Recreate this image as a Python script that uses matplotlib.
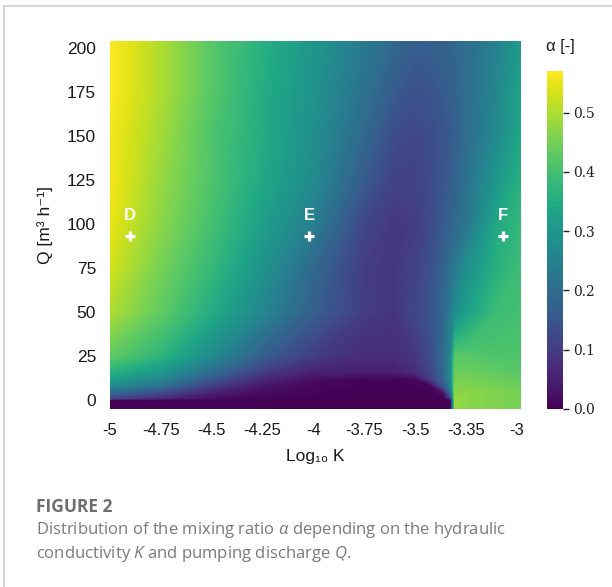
import numpy as np
import matplotlib
matplotlib.use("Agg")
import matplotlib.pyplot as plt
from matplotlib.lines import Line2D
from matplotlib.cm import ScalarMappable
from matplotlib.colors import Normalize

# grid: columns = log10 K, rows = Q [m3/h]
log_k = [-5.0, -4.75, -4.5, -4.25, -4.0, -3.75, -3.6, -3.5, -3.42, -3.36,
         -3.325, -3.305, -3.25, -3.1, -2.98]
q = [-5, 0, 1, 4, 8, 12, 16, 25, 50, 75, 100, 125, 150, 175, 205]

# mixing ratio alpha, one row per q value (bottom to top)
alpha = [
    [0, 0, 0, 0, 0, 0, 0, 0, 0, 0, 0, .48, .47, .46, .45],
    [0, 0, 0, 0, 0, 0, 0, 0, 0, 0, 0, .48, .47, .46, .45],
    [.12, .06, .02, .005, 0, 0, 0, 0, 0, 0, .10, .48, .47, .46, .45],
    [.18, .12, .05, .015, .005, 0, 0, 0, 0, .02, .20, .47, .47, .46, .45],
    [.27, .21, .10, .03, .01, .003, .003, .003, .01, .15, .25, .46, .46, .45, .44],
    [.32, .26, .15, .065, .02, .005, .005, .01, .10, .18, .27, .45, .45, .44, .43],
    [.36, .30, .20, .10, .05, .05, .05, .07, .12, .19, .27, .44, .44, .43, .42],
    [.43, .37, .27, .17, .10, .07, .07, .09, .13, .20, .26, .42, .42, .41, .41],
    [.50, .43, .35, .26, .17, .10, .09, .12, .15, .19, .24, .27, .32, .39, .40],
    [.53, .45, .38, .29, .19, .10, .09, .11, .14, .18, .21, .23, .28, .36, .39],
    [.55, .47, .40, .32, .24, .12, .09, .10, .13, .16, .18, .19, .22, .34, .38],
    [.56, .48, .41, .34, .27, .16, .11, .11, .13, .15, .17, .18, .21, .30, .36],
    [.56, .49, .41, .35, .28, .19, .13, .12, .13, .15, .16, .17, .20, .27, .34],
    [.57, .50, .42, .35, .29, .21, .16, .14, .15, .16, .17, .18, .20, .26, .33],
    [.57, .50, .42, .36, .30, .23, .19, .17, .17, .18, .18, .19, .20, .25, .31],
]

x_ticks = [-5, -4.75, -4.5, -4.25, -4, -3.75, -3.5, -3.25, -3]
x_tick_labels = ["-5", "-4.75", "-4.5", "-4.25", "-4", "-3.75", "-3.5", "-3.35", "-3"]
y_ticks = [0, 25, 50, 75, 100, 125, 150, 175, 200]

point_names = ["D", "E", "F"]
point_k = [-4.9, -4.02, -3.07]
point_q = [93, 93, 93]

vmax = 0.57
sans = ["Liberation Sans", "DejaVu Sans"]

plt.rcParams["mathtext.fontset"] = "custom"
plt.rcParams["mathtext.rm"] = "Open Sans"
plt.rcParams["mathtext.it"] = "Open Sans:italic"

fig = plt.figure(figsize=(6.12, 5.87), dpi=100)
ax = fig.add_axes([110 / 612, 178 / 587, 411 / 612, 368 / 587])

levels = np.linspace(0, vmax, 120)
ax.contourf(log_k, q, np.array(alpha), levels=levels, cmap="viridis",
            vmin=0, vmax=vmax, extend="both")

ax.set_xlim(-5.0, -2.98)
ax.set_ylim(-5.1, 204)
for s in ax.spines.values():
    s.set_visible(False)

ax.set_xticks(x_ticks)
ax.set_xticklabels(x_tick_labels, family=sans, fontsize=12)
ax.set_yticks(y_ticks)
ax.set_yticklabels([str(v) for v in y_ticks], family=sans, fontsize=12.5)
ax.tick_params(length=0, pad=10, colors="#1a1a1a")

ax.set_xlabel("Log₁₀ K", family=sans, fontsize=12.5, labelpad=8, color="#1a1a1a")
ax.set_ylabel("Q [m³ h⁻¹]", family=sans, fontsize=12.5, labelpad=10, color="#1a1a1a")

# marked points
ax.plot(point_k, point_q, "+", color="white", ms=7, mew=2.3)
for name, k, qq in zip(point_names, point_k, point_q):
    ax.text(k, qq + 12, name, color="white", fontweight="bold", family=sans,
            fontsize=12, ha="center", va="center")

# colorbar
cax = fig.add_axes([547 / 612, 178 / 587, 16 / 612, 338 / 587])
sm = ScalarMappable(norm=Normalize(0, vmax), cmap="viridis")
cb = fig.colorbar(sm, cax=cax)
cb.outline.set_visible(False)
cb.set_ticks([0.0, 0.1, 0.2, 0.3, 0.4, 0.5])
cb.ax.tick_params(length=4, width=1, labelsize=10, colors="#222222")
for t in cb.ax.get_yticklabels():
    t.set_family("DejaVu Serif")
fig.text(560 / 612, 1 - 47 / 587, "α [-]", ha="center", va="center",
         family=sans, fontsize=12, color="#1a1a1a")

# caption
fig.text(36 / 612, 1 - 507 / 587, "FIGURE 2", ha="left", va="center",
         family="Open Sans", fontweight="bold", fontsize=12.5, color="#6e6e6e")
fig.text(36 / 612, 1 - 530 / 587,
         "Distribution of the mixing ratio $\\alpha$ depending on the hydraulic",
         ha="left", va="center", family="Open Sans", fontsize=12, color="#7a7a7a")
fig.text(36 / 612, 1 - 554 / 587,
         "conductivity $K$ and pumping discharge $Q$.",
         ha="left", va="center", family="Open Sans", fontsize=12, color="#7a7a7a")

# card frame
fig.add_artist(Line2D([4 / 612, 4 / 612], [0, 1 - 6 / 587], transform=fig.transFigure,
                      color="#cfcfcf", lw=1.2))
fig.add_artist(Line2D([4 / 612, 1], [1 - 6 / 587, 1 - 6 / 587], transform=fig.transFigure,
                      color="#cfcfcf", lw=1.2))

fig.savefig("out.png", dpi=100)
